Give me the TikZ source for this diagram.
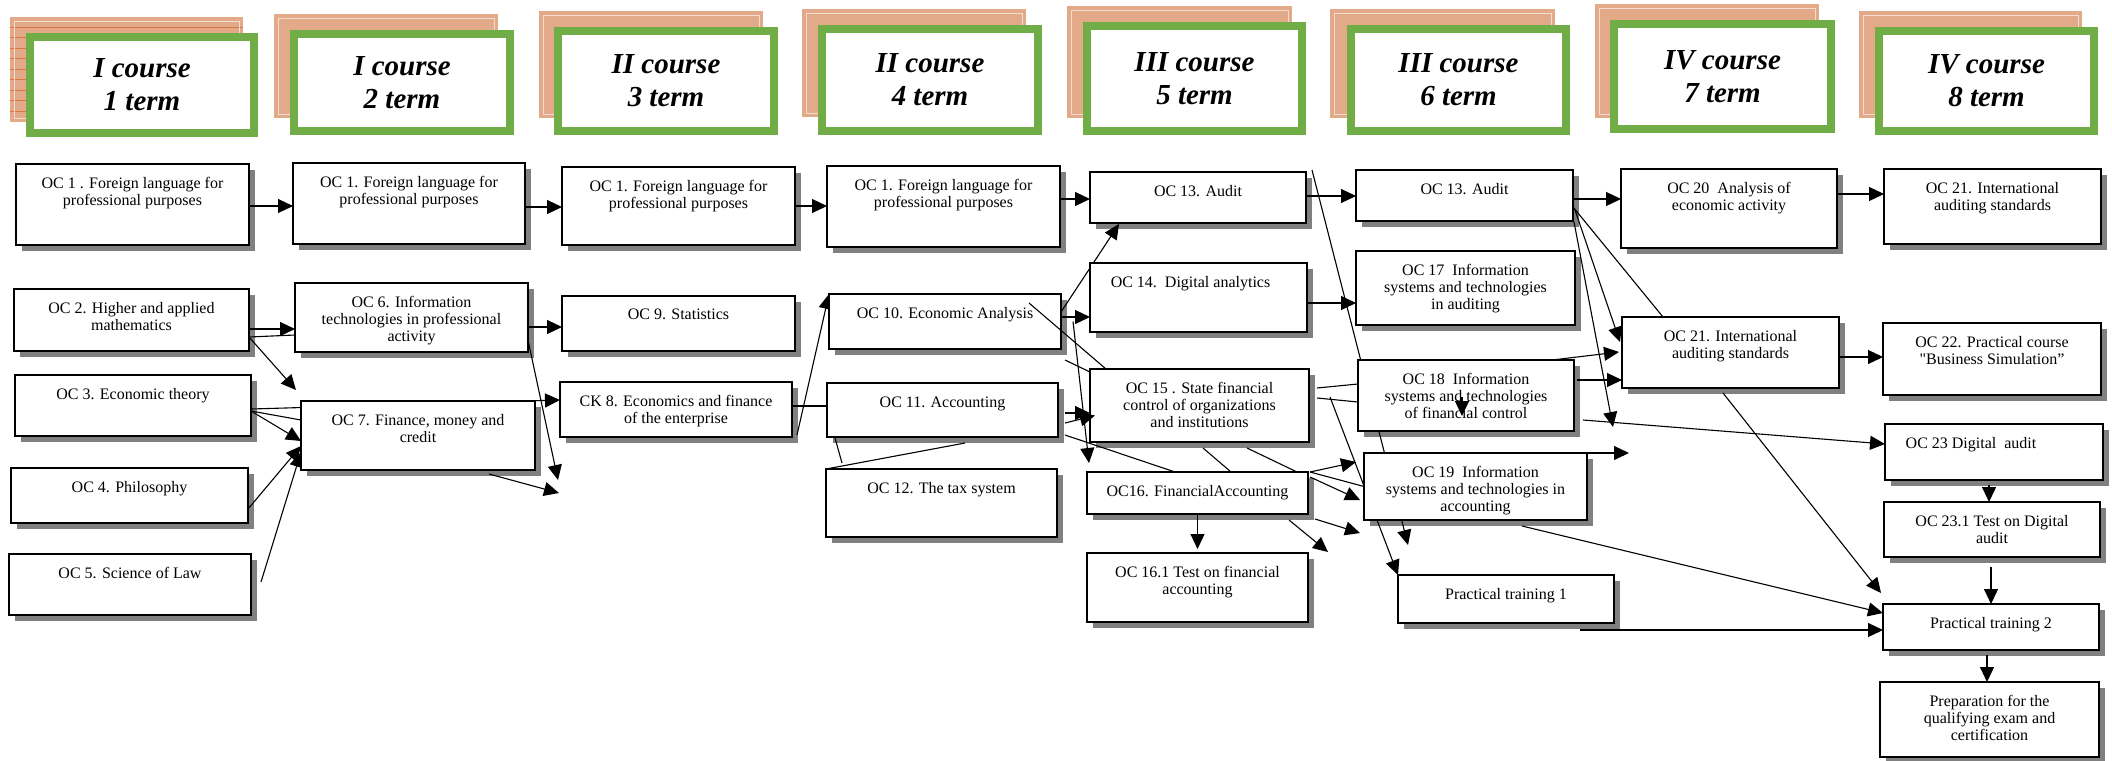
\documentclass[tikz,border=0pt]{standalone}
\usepackage{fontspec}
\setmainfont{Liberation Serif}
\usetikzlibrary{arrows.meta,calc}
\definecolor{tanc}{HTML}{E3AA8A}
\definecolor{tanline}{HTML}{D8763E}
\definecolor{grn}{HTML}{70AD47}
\definecolor{shd}{HTML}{808080}
\pgfdeclarelayer{shadowl}\pgfdeclarelayer{connl}\pgfdeclarelayer{topl}
\pgfsetlayers{shadowl,connl,main,topl}
\tikzset{
  cbx/.style={draw=black, line width=1.1pt, fill=white, inner sep=0pt, outer sep=0pt},
  ctxt/.style={font=\fontsize{8}{8.5}\selectfont, align=center, inner sep=0pt},
  conn/.style={line width=0.55pt, -{Triangle[length=7.5pt,width=7pt]}},
  plainc/.style={line width=0.55pt},
  hdr/.style={draw=grn, line width=4pt, fill=white, inner sep=0pt, align=center,
    font=\fontsize{14.5}{16.5}\selectfont\bfseries\itshape},
  tanframe/.style={draw=white!60!tanc, line width=0.4pt},
}
\newcommand\cbox[6]{%
  \begin{pgfonlayer}{shadowl}\fill[shd] (#2+6,#3+6) rectangle (#4+6,#5+6);\end{pgfonlayer}
  \node[cbx, anchor=north west, minimum width={(#4-#2)*0.5pt}, minimum height={(#5-#3)*0.5pt}] (#1) at (#2,#3) {};
  \node[ctxt, anchor=north] (#1t) at ($(#1.north)+(0,13)$) {#6};
}
\begin{document}
\begin{tikzpicture}[x=0.5pt,y=-0.5pt]
\useasboundingbox (0,0) rectangle (2112,760);

% ---------- headers ----------
\fill[tanc] (10,17) rectangle (243,122);
\foreach \yy in {27,37.5,48,58.5,69,79.5,90,100.5,111} \draw[tanline, line width=0.5pt] (10,\yy) -- (243,\yy);
\draw[tanframe] (14,21) rectangle (239,118);
\node[hdr, minimum width=112pt, minimum height=48pt] (H1) at (142,85) {I course\\1 term};

\fill[tanc] (274,14) rectangle (498,118); \draw[tanframe] (278,18) rectangle (494,114);
\node[hdr, minimum width=108pt, minimum height=48.5pt] (H2) at (402,82.5) {I course\\2 term};

\fill[tanc] (539,11) rectangle (763,118); \draw[tanframe] (543,15) rectangle (759,114);
\node[hdr, minimum width=108pt, minimum height=50pt] (H3) at (666,81) {II course\\3 term};

\fill[tanc] (802,9) rectangle (1026,117); \draw[tanframe] (806,13) rectangle (1022,113);
\node[hdr, minimum width=108pt, minimum height=51pt] (H4) at (930,80) {II course\\4 term};

\fill[tanc] (1067,6) rectangle (1292,118); \draw[tanframe] (1071,10) rectangle (1288,114);
\node[hdr, minimum width=107.5pt, minimum height=52.5pt] (H5) at (1194.5,78.5) {III course\\5 term};

\fill[tanc] (1330,9) rectangle (1555,118); \draw[tanframe] (1334,13) rectangle (1551,114);
\node[hdr, minimum width=107.5pt, minimum height=51pt] (H6) at (1458.5,80) {III course\\6 term};

\fill[tanc] (1595,4) rectangle (1819,118); \draw[tanframe] (1599,8) rectangle (1815,114);
\node[hdr, minimum width=108.5pt, minimum height=52.5pt] (H7) at (1722.5,76.5) {IV course\\7 term};

\fill[tanc] (1859,11) rectangle (2082,118); \draw[tanframe] (1863,15) rectangle (2078,114);
\node[hdr, minimum width=107.5pt, minimum height=50pt] (H8) at (1986.5,81) {IV course\\8 term};

% ---------- boxes ----------
\cbox{OC1a}{16}{164}{249}{245}{OC 1 . Foreign language for\\professional purposes}
\cbox{OC1b}{293}{163}{525}{244}{OC 1. Foreign language for\\professional purposes}
\cbox{OC1c}{562}{167}{795}{245}{OC 1. Foreign language for\\professional purposes}
\cbox{OC1d}{827}{166}{1060}{247}{OC 1. Foreign language for\\professional purposes}
\cbox{OC2}{14}{289}{249}{351}{OC 2. Higher and applied\\mathematics}
\cbox{OC3}{15}{375}{251}{436}{OC 3. Economic theory}
\cbox{OC4}{11}{468}{248}{523}{OC 4. Philosophy}
\cbox{OC5}{9}{554}{251}{615}{OC 5. Science of Law}
\cbox{OC6}{295}{283}{528}{352}{OC 6. Information\\technologies in professional\\activity}
\cbox{OC7}{301}{401}{535}{470}{OC 7. Finance, money and\\credit}
\cbox{OC9}{562}{296}{795}{351}{OC 9. Statistics}
\cbox{CK8}{560}{382}{792}{437}{CK 8. Economics and finance\\of the enterprise}
\cbox{OC10}{829}{294}{1061}{349}{OC 10. Economic Analysis}
\cbox{OC11}{827}{383}{1058}{437}{OC 11. Accounting}
\cbox{OC12}{826}{469}{1057}{537}{OC 12. The tax system}
\cbox{OC13a}{1090}{172}{1306}{223}{OC 13. Audit}
\cbox{OC14}{1090}{263}{1307}{332}{OC 14.\ \ Digital analytics\hspace*{8pt}}
\cbox{OC15}{1090}{369}{1309}{442}{OC 15 . State financial\\control of organizations\\and institutions}
\cbox{OC16}{1087}{472}{1308}{514}{OC16. FinancialAccounting}
\cbox{OC161}{1087}{553}{1308}{622}{OC 16.1 Test on financial\\accounting}
\cbox{OC13b}{1356}{170}{1573}{221}{OC 13. Audit}
\cbox{OC17}{1356}{251}{1575}{325}{OC 17\ \ Information\\systems and technologies\\in auditing}
\cbox{OC18}{1358}{360}{1574}{431}{OC 18\ \ Information\\systems and technologies\\of financial control}
\cbox{OC19}{1364}{453}{1587}{520}{OC 19\ \ Information\\systems and technologies in\\accounting}
\cbox{PT1}{1398}{575}{1614}{623}{Practical training 1}
\cbox{OC20}{1621}{169}{1837}{248}{OC 20\ \ Analysis of\\economic activity}
\cbox{OC21b}{1622}{317}{1839}{388}{OC 21. International\\auditing standards}
\cbox{OC21a}{1884}{169}{2101}{244}{OC 21. International\\auditing standards}
\cbox{OC22}{1883}{323}{2101}{395}{OC 22. Practical course\\\textquotedbl Business Simulation”}
\cbox{OC23}{1885}{424}{2103}{480}{OC 23 Digital\ \ audit\hspace*{23pt}}
\cbox{OC231}{1884}{502}{2100}{557}{OC 23.1 Test on Digital\\audit}
\cbox{PT2}{1883}{604}{2099}{650}{Practical training 2}
\cbox{Prep}{1880}{682}{2099}{757}{Preparation for the\\qualifying exam and\\certification}

% ---------- free ends ----------
\coordinate (f1) at (296,390);
\coordinate (f2) at (558,480);
\coordinate (f3) at (559,493);
\coordinate (f4) at (1089,463);
\coordinate (f5) at (1328,552);
\coordinate (f6) at (1360,533);
\coordinate (f7) at (1408,545);
\coordinate (f8) at (1613,427);
\coordinate (f9) at (1629,453);

% ---------- connectors (behind boxes) ----------
\begin{pgfonlayer}{connl}
\draw[conn] (OC1a.east |- 0,206) -- (OC1b.west |- 0,206);
\draw[conn] (OC1b.east |- 0,207) -- (OC1c.west |- 0,207);
\draw[conn] (OC1c.east |- 0,206) -- (OC1d.west |- 0,206);
\draw[conn] (OC1d.east |- 0,199) -- (OC13a.west |- 0,199);
\draw[conn] (OC2.east |- 0,329) -- (OC6.west |- 0,329);
\draw[plainc] (OC2.east |- 0,337) -- (OC6.west |- 0,335);
\draw[conn] (OC2.east |- 0,337) -- (f1);
\draw[conn] (OC6.east |- 0,327) -- (OC9.west |- 0,327);
\draw[conn] (OC6.east |- 0,340) -- (f2);
\draw[conn] (OC3.east |- 0,409) -- (CK8.west |- 0,400);
\draw[plainc] (OC3.east |- 0,411) -- (OC7.west |- 0,420);
\draw[conn] (OC3.east |- 0,411) -- (OC7.west |- 0,441);
\draw[conn] (OC4.east |- 0,509) -- (OC7.west |- 0,446);
\draw[conn] ($(OC5.north east)+(10,28)$) -- (OC7.west |- 0,452);
\draw[conn] ($(OC7.south west)+(188,4)$) -- (f3);
\draw[conn] ($(CK8.south east)+(5,-2)$) -- (OC10.north west);
\draw[plainc] (CK8.east |- 0,406) -- (OC11.west |- 0,406);
\draw[plainc] ($(OC11.south west)+(8,1)$) -- ($(OC12.north west)+(16,-6)$);
\draw[plainc] (OC12.north west) -- ($(OC11.south west)+(138,6)$);
\draw[conn] (OC10.east |- 0,317) -- (OC14.west |- 0,317);
\draw[conn] (OC10.east |- 0,312) -- ($(OC13a.south west)+(29,1)$);
\draw[plainc] ($(OC10.south east)+(4,11)$) -- (OC15.west |- 0,372);
\draw[conn] ($(OC10.east)+(12,0)$) -- (f4);
\draw[conn] ($(OC11.east)+(7,3)$) -- (OC15.west |- 0,413);
\draw[plainc] ($(OC11.south east)+(7,-2)$) -- ($(OC16.north west)+(88,0)$);
\draw[plainc] ($(OC15.south west)+(113,6)$) -- ($(OC16.north west)+(144,0)$);
\draw[plainc] ($(OC15.south west)+(157,6)$) -- ($(OC16.north west)+(210,0)$);
\draw[conn] ($(OC16.north east)+(2,0)$) -- ($(OC19.west)+(-8,-24.5)$);
\draw[plainc] ($(OC16.north east)+(2,0)$) -- (OC19.west);
\draw[conn] ($(OC16.north east)+(2,5)$) -- ($(OC19.west)+(-4,13.5)$);
\draw[conn] (OC16.south) -- ($(OC161.north)+(0,-4)$);
\draw[conn] ($(OC16.south east)+(-19,6)$) -- (f5);
\draw[conn] ($(OC16.south east)+(7,5)$) -- (f6);
\draw[conn] ($(OC13a.north east)+(6,-2)$) -- (f7);
\draw[conn] ($(OC15.north east)+(21,28)$) -- (PT1.north west);
\draw[plainc] ($(OC15.north east)+(8,19)$) -- (OC18.west |- 0,384);
\draw[plainc] ($(OC15.north east)+(8,29)$) -- (OC18.west |- 0,402);
\draw[conn] (OC14.east |- 0,303) -- (OC17.west |- 0,303);
\draw[conn] (OC13a.east |- 0,196) -- (OC13b.west |- 0,196);
\draw[conn] (OC13b.east |- 0,199) -- (OC20.west |- 0,199);
\draw[plainc] ($(OC13b.north east)+(0,37)$) -- ($(OC21b.north west)+(41,0)$);
\draw[conn] ($(OC13b.north east)+(2,40)$) -- ($(OC21b.north west)+(-2,25)$);
\draw[conn] ($(OC13b.south east)+(1,1)$) -- (f8);
\draw[conn] ($(OC18.north east)+(-22,0)$) -- ($(OC21b.north west)+(-3,35)$);
\draw[conn] ($(OC18.east)+(3,-15.5)$) -- (OC21b.west |- 0,380);
\draw[conn] ($(OC18.south east)+(9,-11)$) -- (OC23.west |- 0,444);
\draw[conn] (OC19.north east) -- (f9);
\draw[conn] ($(OC19.south west)+(158,6)$) -- (PT2.west |- 0,613);
\draw[conn] ($(PT1.south east)+(-34,7)$) -- (PT2.west |- 0,630);
\draw[conn] ($(OC21b.south west)+(101,5)$) -- ($(PT2.north west)+(-2,-11)$);
\draw[conn] (OC21b.east |- 0,357) -- (OC22.west |- 0,357);
\draw[conn] (OC20.east |- 0,194) -- (OC21a.west |- 0,194);
\draw[conn] ($(OC23.south)+(-5,5)$) -- ($(OC231.north)+(-3,0)$);
\draw[conn] ($(OC231.south)+(-1,10)$) -- (PT2.north);
\draw[conn] ($(PT2.south)+(-4,5)$) -- ($(Prep.north)+(-2.5,0)$);
\end{pgfonlayer}

% ---------- connectors drawn over boxes ----------
\begin{pgfonlayer}{topl}
\draw[plainc] ($(OC10.north west)+(200,9)$) -- ($(OC15.north west)+(16,0)$);
\draw[conn] ($(OC11.east)+(7,13)$) -- ($(OC15.west)+(5,10)$);
\draw[conn] ($(OC18.north west)+(104,37)$) -- ($(OC18.north west)+(104,56)$);
\end{pgfonlayer}
\end{tikzpicture}
\end{document}
